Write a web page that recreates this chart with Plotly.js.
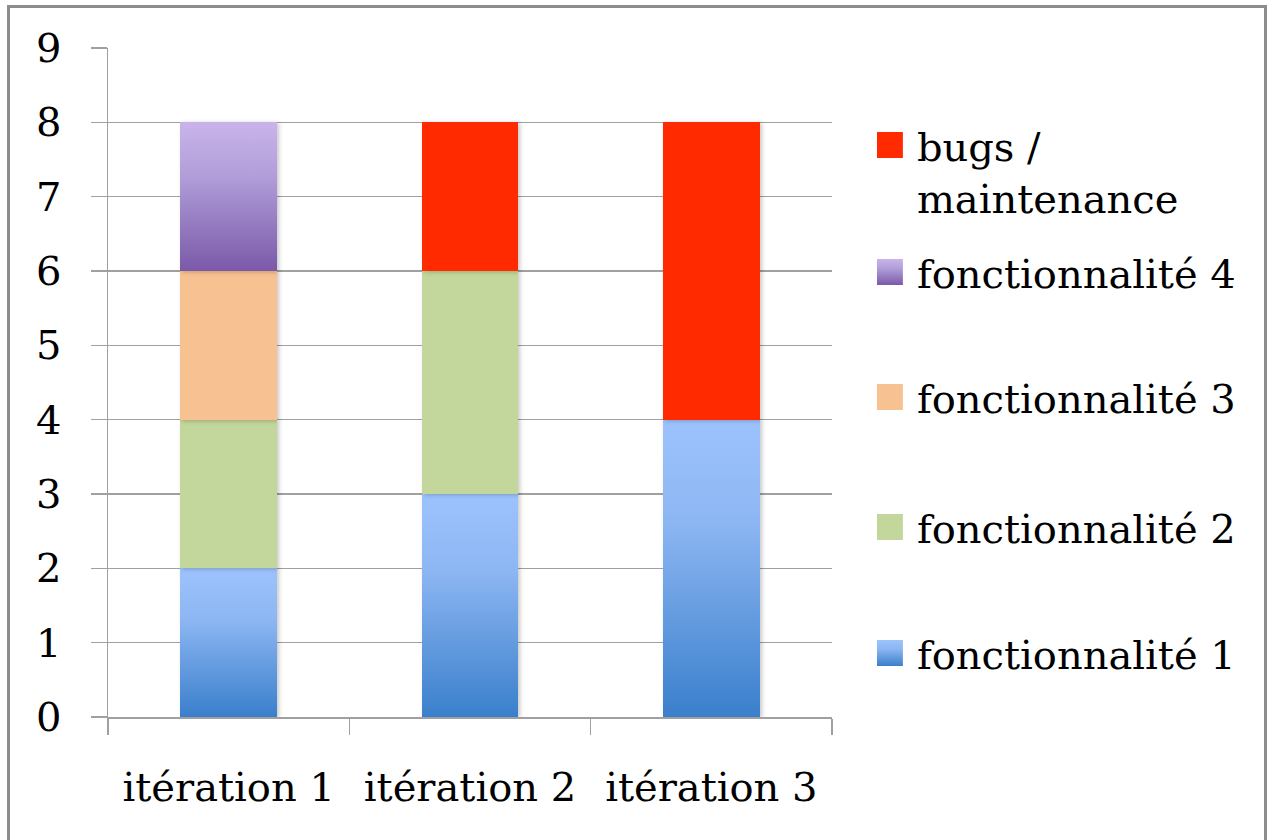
<!DOCTYPE html>
<html>
<head>
<meta charset="utf-8">
<script src="https://cdn.plot.ly/plotly-3.0.1.min.js"></script>
<style>
  html, body { margin: 0; padding: 0; background: #ffffff; }
  #wrap { position: relative; width: 1268px; height: 840px; overflow: hidden; }
  #frame { position: absolute; left: 7px; top: 5px; width: 1260px; height: 900px;
           border: 3px solid #8c8c8c; box-sizing: border-box; pointer-events: none; }
  #chart { position: absolute; left: 0; top: 0; width: 1268px; height: 840px; }
  #gdefs { position: absolute; left: 0; top: 0; width: 0; height: 0; overflow: hidden; }
  g.legend2 .legendpoints path { fill: url(#gPurpleL) !important; }
  g.legend5 .legendpoints path { fill: url(#gBlueL) !important; }
</style>
</head>
<body>
<svg id="gdefs" xmlns="http://www.w3.org/2000/svg" width="0" height="0">
  <defs>
    <linearGradient id="gBlueL" x1="0" y1="0" x2="0" y2="1">
      <stop offset="0" stop-color="#9dc3fd"/>
      <stop offset="0.35" stop-color="#8cb6f2"/>
      <stop offset="1" stop-color="#3a7fcc"/>
    </linearGradient>
    <linearGradient id="gPurpleL" x1="0" y1="0" x2="0" y2="1">
      <stop offset="0" stop-color="#c9b4ea"/>
      <stop offset="0.35" stop-color="#b29fda"/>
      <stop offset="1" stop-color="#7a59a9"/>
    </linearGradient>
  </defs>
</svg>
<div id="wrap">
  <div id="frame"></div>
  <div id="chart"></div>
</div>
<script>
// ---- data ----
const categories = ['itération 1', 'itération 2', 'itération 3'];
const fonct1 = [2, 3, 4];
const fonct2 = [2, 3, 0];
const fonct3 = [2, 0, 0];
const fonct4 = [2, 0, 0];
const bugs   = [0, 2, 4];
const seriesNames = ['fonctionnalité 1', 'fonctionnalité 2', 'fonctionnalité 3', 'fonctionnalité 4', 'bugs /<br>maintenance'];
const yTicks = [0, 1, 2, 3, 4, 5, 6, 7, 8, 9];

// ---- style ----
const FONT = 'DejaVu Serif, serif';
const colors = ['#6aa0e6', '#c3d69b', '#f8c191', '#a58acb', '#ff2a00'];
const legendIds = ['legend5', 'legend4', 'legend3', 'legend2', 'legend'];
const values = [fonct1, fonct2, fonct3, fonct4, bugs];

const traces = values.map((v, i) => ({
  type: 'bar',
  x: categories,
  y: v,
  name: seriesNames[i],
  legend: legendIds[i],
  marker: { color: colors[i], line: { width: 0 } },
  hoverinfo: 'skip'
}));

const PLOT_TOP = 48, PLOT_BOT = 717, PLOT_H = PLOT_BOT - PLOT_TOP;
const py = p => (PLOT_BOT - p) / PLOT_H;
const legFont = { family: FONT, size: 40, color: '#000000' };
const LX = 1.062;
function leg(yc, extra) {
  return Object.assign({
    x: LX, xanchor: 'left', y: py(yc), yanchor: 'middle',
    font: legFont, bgcolor: 'rgba(0,0,0,0)', borderwidth: 0
  }, extra || {});
}

const layout = {
  width: 1268, height: 840,
  margin: { l: 108, r: 436, t: PLOT_TOP, b: 840 - PLOT_BOT, pad: 0 },
  paper_bgcolor: 'rgba(0,0,0,0)',
  plot_bgcolor: 'rgba(0,0,0,0)',
  barmode: 'stack',
  bargap: 0.6,
  showlegend: true,
  xaxis: {
    type: 'category',
    showgrid: false,
    showline: true, linecolor: '#a0a0a0', linewidth: 1.5,
    ticks: 'outside', tickson: 'boundaries', ticklen: 16, tickwidth: 1.5, tickcolor: '#a0a0a0',
    tickfont: { family: FONT, size: 40, color: '#000000' },
    ticklabelstandoff: 34,
    zeroline: false
  },
  yaxis: {
    range: [0, 9],
    tickvals: yTicks,
    ticktext: yTicks.map(String),
    showgrid: true, gridcolor: '#a0a0a0', gridwidth: 1.5,
    showline: true, linecolor: '#a0a0a0', linewidth: 1.5,
    ticks: 'outside', ticklen: 16, tickwidth: 1.5, tickcolor: '#a0a0a0',
    tickfont: { family: FONT, size: 40, color: '#000000' },
    ticklabelstandoff: 21,
    zeroline: false
  },
  legend:  leg(171, { valign: 'top' }),
  legend2: leg(272),
  legend3: leg(397),
  legend4: leg(527),
  legend5: leg(653)
};

function decorate(gd) {
  const barTraces = gd.querySelectorAll('.barlayer .trace');
  barTraces.forEach((t, i) => {
    t.querySelectorAll('path').forEach(p => {
      if (i === 0) p.style.setProperty('fill', 'url(#gBlueL)', 'important');
      if (i === 3) p.style.setProperty('fill', 'url(#gPurpleL)', 'important');
      p.style.filter = 'drop-shadow(2px 1px 2px rgba(0,0,0,0.22))';
    });
  });
  gd.querySelectorAll('.legendpoints path').forEach(p => {
    p.setAttribute('d', 'M6,13H-20V-13H6Z');
  });
}

Plotly.newPlot('chart', traces, layout, { staticPlot: true, displayModeBar: false })
  .then(gd => { decorate(gd); setTimeout(() => decorate(gd), 200); });
</script>
</body>
</html>
